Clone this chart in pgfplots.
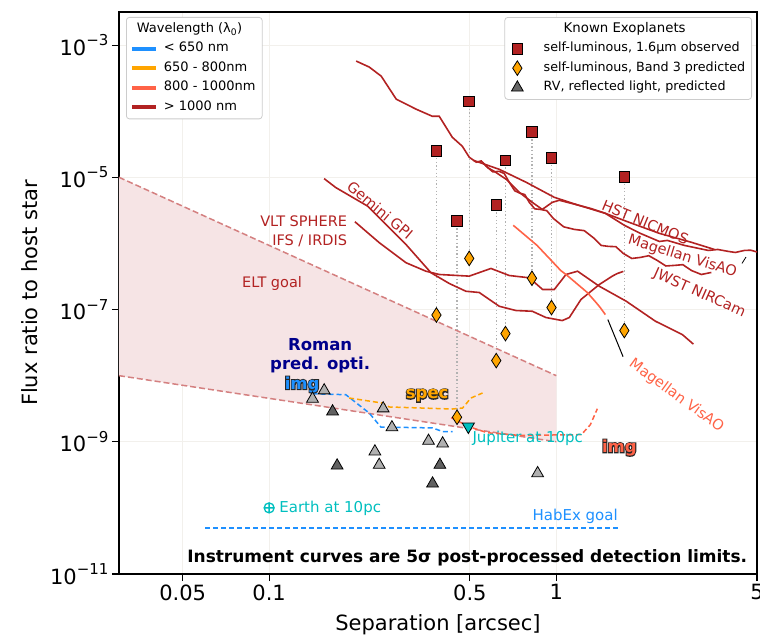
\documentclass[border=0pt]{standalone}
\usepackage{fontspec}
\setmainfont{DejaVu Sans}
\usepackage{pgfplots}
\pgfplotsset{compat=1.18}
\definecolor{dred}{HTML}{B22222}
\definecolor{tomatoc}{HTML}{FF6347}
\definecolor{orng}{HTML}{FFA500}
\definecolor{dblue}{HTML}{1E90FF}
\definecolor{navyc}{HTML}{00008B}
\definecolor{cyanc}{rgb}{0,0.75,0.75}
\definecolor{eltline}{rgb}{0.83,0.50,0.50}
\definecolor{eltfill}{rgb}{0.965,0.895,0.897}
\definecolor{gridc}{rgb}{0.95,0.94,0.925}
\definecolor{ltri}{rgb}{0.69,0.69,0.69}
\definecolor{dtri}{rgb}{0.38,0.38,0.38}
\definecolor{dotc}{rgb}{0.70,0.70,0.70}
\newcommand{\tenexp}[1]{10\raisebox{0.45em}{\fontsize{15}{15}\selectfont −#1}}
\newcommand{\lbl}{\fontsize{14.5}{19}\selectfont}
\newcommand{\olab}[4]{%
\node[text=black!85, font=\bfseries\fontsize{16.5}{18}\selectfont] at (axis cs:#1,#2) {\addfontfeature{FakeBold=12}#4};
\node[text=#3, font=\bfseries\fontsize{16.5}{18}\selectfont] at (axis cs:#1,#2) {#4};}
\begin{document}
\begin{tikzpicture}
\begin{axis}[
  name=main,
  scale only axis, width=638pt, height=562pt,
  xmode=log, ymode=log,
  xmin=0.03, xmax=5, ymin=1e-11, ymax=3.1623e-3,
  xtick={0.05,0.1,0.5,1,5}, xticklabels={0.05,0.1,0.5,1,5},
  ytick={1e-11,1e-9,1e-7,1e-5,1e-3},
  yticklabels={\tenexp{11},\tenexp{9},\tenexp{7},\tenexp{5},\tenexp{3}},
  yminorticks=false,
  tick align=outside, tick pos=left,
  major tick length=7pt, minor tick length=4pt,
  major tick style={black, line width=1.1pt},
  minor tick style={black, line width=0.8pt},
  axis line style={line width=1.2pt},
  grid=major, major grid style={gridc, line width=0.8pt},
  tick label style={font=\fontsize{21}{25}\selectfont},
  label style={font=\fontsize{21}{25}\selectfont},
  xlabel={Separation [arcsec]}, ylabel={Flux ratio to host star},
  xlabel style={at={([yshift=-51pt]rel axis cs:0.5,0)}, anchor=center},
  ylabel style={at={([xshift=-89pt]rel axis cs:0,0.5)}, anchor=center},
  legend cell align=left,
  legend style={at={(rel axis cs:1,1)}, anchor=north east, xshift=-5pt, yshift=-5pt,
    draw=black!20, line width=0.8pt, rounded corners=3pt, fill=white,
    font=\fontsize{12.7}{15}\selectfont, row sep=2pt, inner xsep=4pt, inner ysep=3pt,
    nodes={inner sep=2.5pt, text height=9.5pt, text depth=3pt},
    /tikz/every odd column/.append style={column sep=18pt}},
]
% ELT goal region
\addplot[fill=eltfill, draw=none, forget plot] coordinates {(0.03,1e-5) (1,1e-8) (1,1e-9) (0.03,1e-8)};
\addplot[eltline, line width=1.5pt, dash pattern=on 6pt off 3pt, forget plot] coordinates {(0.03,1e-5) (1,1e-8)};
\addplot[eltline, line width=1.5pt, dash pattern=on 6pt off 3pt, forget plot] coordinates {(0.03,1e-8) (1,1e-9)};
% vertical dotted connectors
\addplot[dotc, line width=1.2pt, dash pattern=on 1.3pt off 2.3pt, forget plot] coordinates {(0.3825,2.50e-5) (0.3825,8.26e-8)};
\addplot[dotc, line width=1.2pt, dash pattern=on 1.3pt off 2.3pt, forget plot] coordinates {(0.4512,2.18e-6) (0.4512,2.35e-9)};
\addplot[dotc, line width=1.2pt, dash pattern=on 1.3pt off 2.3pt, forget plot] coordinates {(0.4974,1.40e-4) (0.4974,5.93e-7)};
\addplot[dotc, line width=1.2pt, dash pattern=on 1.3pt off 2.3pt, forget plot] coordinates {(0.6179,3.79e-6) (0.6179,1.69e-8)};
\addplot[dotc, line width=1.2pt, dash pattern=on 1.3pt off 2.3pt, forget plot] coordinates {(0.6653,1.81e-5) (0.6653,4.33e-8)};
\addplot[dotc, line width=1.2pt, dash pattern=on 1.3pt off 2.3pt, forget plot] coordinates {(0.8228,4.84e-5) (0.8228,2.97e-7)};
\addplot[dotc, line width=1.2pt, dash pattern=on 1.3pt off 2.3pt, forget plot] coordinates {(0.9622,1.97e-5) (0.9622,1.07e-7)};
\addplot[dotc, line width=1.2pt, dash pattern=on 1.3pt off 2.3pt, forget plot] coordinates {(1.726,1.02e-5) (1.726,4.81e-8)};
% Magellan VisAO (>1000 nm)
\addplot[dred, line width=1.6pt, forget plot] coordinates {
(0.2009,5.73e-4) (0.2231,4.65e-4) (0.2456,3.39e-4) (0.2771,1.52e-4) (0.3253,1.07e-4)
(0.3697,8.39e-5) (0.3911,8.39e-5) (0.4342,4.04e-5) (0.4706,2.95e-5) (0.4977,2.01e-5)
(0.5264,1.69e-5) (0.548,1.77e-5) (0.5705,1.47e-5) (0.601,1.21e-5) (0.6330,1.23e-5)
(0.659,1.14e-5) (0.6861,8.39e-6) (0.717,6.24e-6) (0.7490,5.73e-6) (0.7766,5.48e-6)
(0.8052,4.18e-6) (0.8416,3.33e-6) (0.8796,3.27e-6) (0.9266,3.13e-6) (0.976,2.39e-6)
(1.0617,1.78e-6) (1.155,1.63e-6) (1.2515,1.56e-6) (1.356,1.19e-6) (1.4347,9.32e-7)
(1.518,9.02e-7) (1.612,8.93e-7) (1.712,7.05e-7) (1.8327,5.92e-7) (1.962,6.14e-7)
(2.1,6.52e-7) (2.248,5.52e-7) (2.407,4.56e-7) (2.577,4.65e-7) (2.759,4.77e-7)
(2.954,3.90e-7) (3.2,3.39e-7) (3.468,3.64e-7)};
% HST NICMOS
\addplot[dred, line width=1.6pt, forget plot] coordinates {
(0.5138,1.81e-5) (0.6330,1.32e-5) (0.7861,8.39e-6) (0.984,4.98e-6) (1.184,3.83e-6)
(1.482,2.85e-6) (1.796,2.08e-6) (2.285,1.42e-6) (2.954,1.04e-6) (3.552,8.11e-7)};
% JWST NIRCam
\addplot[dred, line width=1.6pt, forget plot] coordinates {
(0.5524,1.69e-5) (0.58,1.38e-5) (0.6081,1.23e-5) (0.6693,9.33e-6) (0.7430,5.93e-6)
(0.8249,4.18e-6) (0.8937,3.27e-6) (0.9684,4.18e-6) (1.024,4.49e-6) (1.128,4.04e-6)
(1.314,3.39e-6) (1.482,2.85e-6) (1.726,1.88e-6) (1.962,1.42e-6) (2.285,1.07e-6)
(2.437,1.11e-6) (2.793,9.33e-7) (3.385,7.83e-7) (3.65,8.1e-7) (3.975,7.57e-7)
(4.2,7.3e-7) (4.52,7.83e-7) (4.75,7.9e-7) (5,7.43e-7)};
% Gemini GPI
\addplot[dred, line width=1.6pt, forget plot] coordinates {
(0.1554,9.55e-6) (0.1708,6.98e-6) (0.2201,3.67e-6) (0.2550,1.94e-6) (0.2995,9.66e-7)
(0.3661,3.60e-7) (0.4238,2.48e-7) (0.4844,1.89e-7) (0.5391,1.81e-7) (0.6330,1.12e-7)
(0.7238,9.66e-8) (0.8249,9.42e-8) (0.9207,7.57e-8) (1.049,6.81e-8) (1.110,7.57e-8)
(1.219,1.42e-7) (1.412,2.39e-7) (1.567,3.20e-7) (1.632,3.51e-7) (1.712,3.77e-7)};
% VLT SPHERE
\addplot[dred, line width=1.6pt, forget plot] coordinates {
(0.1989,2.13e-6) (0.2416,1.03e-6) (0.2995,5.11e-7) (0.3516,3.80e-7) (0.3911,3.39e-7)
(0.4974,3.20e-7) (0.5921,4.18e-7) (0.6861,3.27e-7) (0.8052,3.02e-7) (0.8960,2.01e-7)
(0.984,2.01e-7) (1.081,3.39e-7) (1.186,3.80e-7) (1.412,2.25e-7) (1.750,1.34e-7)
(2.213,6.67e-8) (2.748,4.18e-8) (3.002,3.00e-8)};
% Magellan VisAO (800-1000 nm)
\addplot[tomatoc, line width=1.6pt, forget plot] coordinates {
(0.7082,1.88e-6) (0.8572,9.33e-7) (1.036,3.90e-7) (1.092,3.27e-7) (1.282,1.81e-7)
(1.375,1.28e-7) (1.423,1.07e-7) (1.482,8.39e-8)};
% Roman curves
\addplot[dblue, line width=1.5pt, dash pattern=on 5pt off 3pt, forget plot] coordinates {
(0.1416,5.33e-9) (0.1850,5.15e-9) (0.2231,2.72e-9) (0.2450,1.67e-9) (0.3707,1.62e-9)
(0.4016,1.43e-9) (0.4351,1.43e-9)};
\addplot[orng, line width=1.5pt, dash pattern=on 5pt off 3pt, forget plot] coordinates {
(0.1900,4.59e-9) (0.2481,3.85e-9) (0.2618,3.36e-9) (0.4351,3.13e-9) (0.4718,3.24e-9)
(0.5043,4.59e-9) (0.5536,5.47e-9)};
\addplot[tomatoc, line width=1.5pt, dash pattern=on 5pt off 3pt, forget plot] coordinates {
(0.4306,2.31e-9) (0.4974,1.69e-9) (0.5748,1.37e-9) (0.7430,1.25e-9) (1.222,1.28e-9)
(1.314,1.81e-9) (1.390,3.16e-9)};
% HabEx goal
\addplot[dblue, line width=1.5pt, dash pattern=on 5pt off 3pt, forget plot] coordinates {(0.06,5e-11) (1.64,5e-11)};
% leader lines
\addplot[black, line width=1pt, forget plot] coordinates {(1.512,7.05e-8) (1.708,1.94e-8)};
\addplot[black, line width=0.8pt, forget plot] coordinates {(4.433,4.98e-7) (4.577,6.22e-7)};
% planets
\addplot[only marks, mark=triangle*, mark size=6.8pt, mark options={fill=ltri, draw=black, line width=0.8pt}, forget plot] coordinates {
(0.1416,4.47e-9) (0.1555,5.97e-9) (0.2495,3.19e-9) (0.2677,1.65e-9) (0.359,1.03e-9)
(0.402,9.4e-10) (0.2335,7.12e-10) (0.2417,4.47e-10) (0.861,3.34e-10)};
\addplot[only marks, mark=triangle*, mark size=6.8pt, mark options={fill=dtri, draw=black, line width=0.8pt}, forget plot] coordinates {
(0.1663,2.87e-9) (0.1725,4.36e-10) (0.3934,4.47e-10) (0.3708,2.33e-10)};
\addplot[only marks, mark=square*, mark size=5.3pt, mark options={fill=dred, draw=black, line width=0.8pt}, forget plot] coordinates {
(0.3825,2.50e-5) (0.4512,2.18e-6) (0.4974,1.40e-4) (0.6179,3.79e-6)
(0.6653,1.81e-5) (0.8228,4.84e-5) (0.9622,1.97e-5) (1.726,1.02e-5)};
\addplot[only marks, mark=diamond*, mark size=7.3pt, mark options={fill=orng, draw=black, line width=0.8pt, xscale=0.85}, forget plot] coordinates {
(0.3825,8.26e-8) (0.4512,2.35e-9) (0.4974,5.93e-7) (0.6179,1.69e-8)
(0.6653,4.33e-8) (0.8228,2.97e-7) (0.9622,1.07e-7) (1.726,4.81e-8)};
\addplot[only marks, mark=triangle*, mark size=7pt, mark options={rotate=180, fill=cyanc, draw=black, line width=0.8pt}, forget plot] coordinates {(0.494,1.70e-9)};
\addplot[only marks, mark=oplus, mark size=5pt, cyanc, line width=1.3pt, forget plot] coordinates {(0.1,1e-10)};
% labels
\node[dred, rotate=-40, font=\lbl] at (axis cs:0.2436,3.16e-6) {Gemini GPI};
\node[dred, align=right, anchor=east, font=\lbl, inner sep=0pt] at (axis cs:0.1870,1.55e-6) {VLT SPHERE\\IFS / IRDIS};
\node[dred, font=\lbl] at (axis cs:0.1024,2.48e-7) {ELT goal};
\node[dred, rotate=-22.5, font=\lbl] at (axis cs:2.042,2.08e-6) {HST NICMOS};
\node[dred, rotate=-17, font=\lbl] at (axis cs:2.748,6.35e-7) {Magellan VisAO};
\node[dred, rotate=-24, font=\lbl] at (axis cs:3.150,1.75e-7) {JWST NIRCam};
\node[tomatoc, rotate=-36, font=\lbl] at (axis cs:2.619,4.98e-9) {Magellan VisAO};
\node[navyc, align=center, font=\bfseries\fontsize{16.5}{18.5}\selectfont] at (axis cs:0.1505,2.01e-8) {Roman\\pred. opti.};
\olab{0.1303}{7.31e-9}{dblue}{img}
\olab{0.3552}{4.98e-9}{orng}{spec}
\olab{1.658}{8.11e-10}{tomatoc}{img}
\node[cyanc, anchor=west, inner sep=0pt, xshift=4pt, yshift=-10pt, font=\fontsize{15}{17}\selectfont] at (axis cs:0.494,1.6e-9) {Jupiter at 10pc};
\node[cyanc, anchor=west, inner sep=0pt, xshift=10pt, font=\fontsize{15}{17}\selectfont] at (axis cs:0.1,1e-10) {Earth at 10pc};
\node[dblue, anchor=south east, inner sep=0pt, yshift=4pt, font=\fontsize{15}{17}\selectfont] at (axis cs:1.64,5e-11) {HabEx goal};
\node[anchor=east, inner sep=0pt, font=\bfseries\fontsize{17}{19}\selectfont] at (axis cs:4.63,1.75e-11) {Instrument curves are 5σ post-processed detection limits.};
% legend
\addlegendimage{empty legend}\addlegendentry{\hspace*{20pt}\fontsize{13.3}{15}\selectfont Known Exoplanets}
\addlegendimage{only marks, mark=square*, mark size=5.3pt, mark options={fill=dred, draw=black, line width=0.8pt}}\addlegendentry{self-luminous, 1.6μm observed}
\addlegendimage{only marks, mark=diamond*, mark size=7.3pt, mark options={fill=orng, draw=black, line width=0.8pt, xscale=0.85}}\addlegendentry{self-luminous, Band 3 predicted}
\addlegendimage{only marks, mark=triangle*, mark size=6.8pt, mark options={fill=black!60, draw=black, line width=0.8pt}}\addlegendentry{RV, reflected light, predicted}
\end{axis}
\begin{axis}[
  scale only axis, width=638pt, height=562pt, hide axis,
  xmin=0, xmax=1, ymin=0, ymax=1,
  legend cell align=left,
  legend image code/.code={\draw[#1, line width=4pt] (0pt,0pt) -- (24pt,0pt);},
  legend style={at={(rel axis cs:0,1)}, anchor=north west, xshift=7pt, yshift=-5pt,
    draw=black!20, line width=0.8pt, rounded corners=3pt, fill=white,
    font=\fontsize{13}{15}\selectfont, row sep=2pt, inner xsep=4pt, inner ysep=3pt,
    nodes={inner sep=2.5pt, text height=9.5pt, text depth=3pt},
    /tikz/every odd column/.append style={column sep=3pt}},
]
\addlegendimage{empty legend}\addlegendentry{\hspace*{-27pt}Wavelength (λ\textsubscript{0})}
\addlegendimage{dblue}\addlegendentry{< 650 nm}
\addlegendimage{orng}\addlegendentry{650 - 800nm}
\addlegendimage{tomatoc}\addlegendentry{800 - 1000nm}
\addlegendimage{dred}\addlegendentry{> 1000 nm}
\end{axis}
\pgfresetboundingbox
\path[use as bounding box] ([shift={(-119pt,-63pt)}]main.south west) rectangle ([shift={(3pt,12pt)}]main.north east);
\end{tikzpicture}
\end{document}
